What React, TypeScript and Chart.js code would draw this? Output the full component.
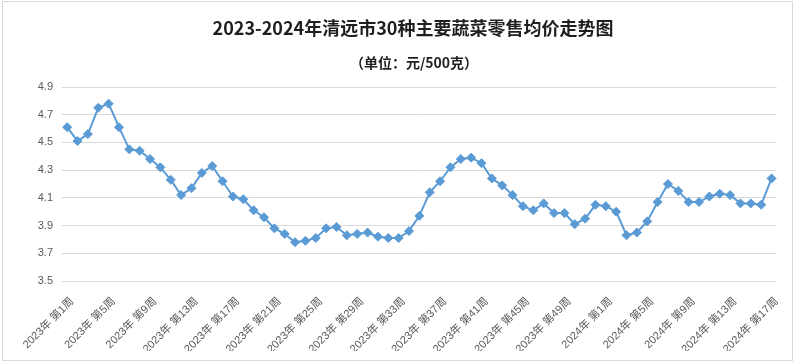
import React, { useEffect, useRef } from "react";
import { Chart, registerables } from "chart.js";

Chart.register(...registerables);

const TITLE = "2023-2024年清远市30种主要蔬菜零售均价走势图";
const SUBTITLE = "（单位：元/500克）";

const WEEKS_2023 = 52;
const WEEKS_2024 = 17;

const prices2023: number[] = [
  4.61, 4.51, 4.56, 4.75, 4.78, 4.61, 4.45, 4.44, 4.38, 4.32,
  4.23, 4.12, 4.17, 4.28, 4.33, 4.22, 4.11, 4.09, 4.01, 3.96,
  3.88, 3.84, 3.78, 3.79, 3.81, 3.88, 3.89, 3.83, 3.84, 3.85,
  3.82, 3.81, 3.81, 3.86, 3.97, 4.14, 4.22, 4.32, 4.38, 4.39,
  4.35, 4.24, 4.19, 4.12, 4.04, 4.01, 4.06, 3.99, 3.99, 3.91,
  3.95, 4.05,
];

const prices2024: number[] = [
  4.04, 4.0, 3.83, 3.85, 3.93, 4.07, 4.2, 4.15, 4.07, 4.07,
  4.11, 4.13, 4.12, 4.06, 4.06, 4.05, 4.24,
];

const yMin = 3.5;
const yMax = 4.9;
const yStep = 0.2;

const labels: string[] = [];
for (let w = 1; w <= WEEKS_2023; w++) labels.push(`2023年 第${w}周`);
for (let w = 1; w <= WEEKS_2024; w++) labels.push(`2024年 第${w}周`);

const values = [...prices2023, ...prices2024];

const decorPlugin = {
  id: "decor",
  beforeDraw(chart: any) {
    const { ctx, width, height } = chart;
    ctx.save();
    ctx.fillStyle = "#ffffff";
    ctx.fillRect(0, 0, width, height);
    ctx.strokeStyle = "#d9d9d9";
    ctx.lineWidth = 1;
    ctx.strokeRect(2.5, 1.5, 790, 359);
    ctx.fillStyle = "#1f1f1f";
    ctx.textAlign = "center";
    ctx.textBaseline = "middle";
    ctx.font = "bold 18px 'Noto Sans CJK SC', 'DejaVu Sans'";
    ctx.fillText(TITLE, 413, 28);
    ctx.font = "bold 14px 'Noto Sans CJK SC', 'DejaVu Sans'";
    ctx.fillText(SUBTITLE, 414, 63);
    ctx.restore();
  },
};

export default function App() {
  const ref = useRef<HTMLCanvasElement | null>(null);

  useEffect(() => {
    document.body.style.margin = "0";
    if (!ref.current) return;
    const chart = new Chart(ref.current, {
      type: "line",
      data: {
        labels,
        datasets: [
          {
            data: values,
            borderColor: "#5B9BD5",
            backgroundColor: "#5B9BD5",
            borderWidth: 2,
            pointStyle: "rectRot",
            pointRadius: 4.5,
            pointBorderWidth: 1,
            tension: 0,
          },
        ],
      },
      options: {
        responsive: false,
        animation: false,
        layout: { padding: { left: 28, right: 17, top: 87, bottom: 13 } },
        plugins: {
          legend: { display: false },
          tooltip: { enabled: false },
          title: { display: false },
        },
        scales: {
          x: {
            offset: true,
            grid: { display: false, drawTicks: false },
            border: { display: false },
            afterFit(scale: any) {
              scale.height = 70;
            },
            ticks: {
              autoSkip: false,
              minRotation: 45,
              maxRotation: 45,
              padding: 14,
              labelOffset: 5,
              color: "#595959",
              font: { family: "'Liberation Sans', 'Noto Sans CJK SC'", size: 11 },
              callback: (_v: any, i: number) => (i % 4 === 0 ? labels[i] : ""),
            },
          },
          y: {
            min: yMin,
            max: yMax,
            grid: { color: "#d9d9d9", lineWidth: 1, drawTicks: false },
            border: { display: false },
            afterFit(scale: any) {
              scale.width = 34;
            },
            ticks: {
              stepSize: yStep,
              padding: 9,
              color: "#595959",
              font: { family: "'Liberation Sans', 'Noto Sans CJK SC'", size: 11 },
              callback: (v: any) => Number(v).toFixed(1),
            },
          },
        },
      },
      plugins: [decorPlugin],
    });
    return () => chart.destroy();
  }, []);

  return (
    <div style={{ width: 795, height: 364 }}>
      <canvas ref={ref} width={795} height={364} style={{ width: 795, height: 364, display: "block" }} />
    </div>
  );
}
